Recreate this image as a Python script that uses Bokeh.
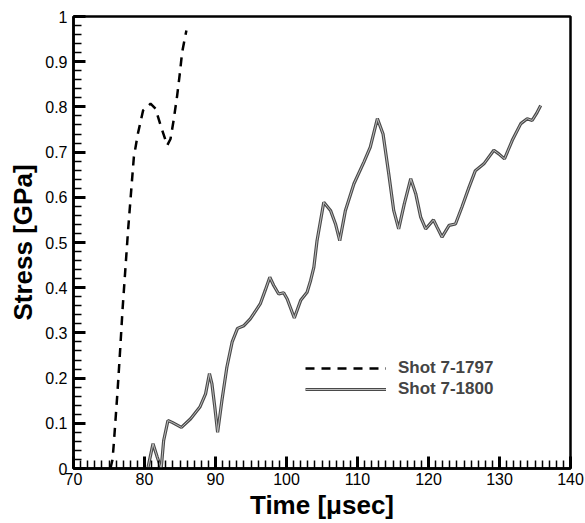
from bokeh.plotting import figure
from bokeh.models import FixedTicker, Legend, LegendItem, Range1d
from bokeh.embed import file_html
from bokeh.resources import INLINE

# Shot 7-1797 (dashed)
t_1797 = [75.2, 75.5, 75.7, 76.2, 76.6, 76.9, 77.3, 77.7, 78.5, 79.06, 79.8,
          80.85, 81.55, 82.35, 83.2, 83.66, 84.1, 84.6, 84.97, 85.3, 85.9]
s_1797 = [0.0, 0.02, 0.06, 0.17, 0.27, 0.35, 0.44, 0.53, 0.689, 0.74, 0.792,
          0.807, 0.796, 0.755, 0.715, 0.729, 0.77, 0.825, 0.873, 0.921, 0.969]

# Shot 7-1800 (solid)
t_1800 = [80.5, 81.2, 81.8, 82.35, 82.7, 83.3, 83.9, 85.2, 86.5, 87.8, 88.6, 89.15,
          89.5, 89.9, 90.3, 90.9, 91.6, 92.35, 93.1, 94.0, 94.9, 96.3, 97.0, 97.65,
          98.2, 98.9, 99.6, 100.1, 101.1, 102.0, 102.9, 103.4, 103.85, 104.3, 105.25,
          106.2, 106.9, 107.5, 108.3, 109.5, 110.9, 111.8, 112.8, 113.6, 114.4, 115.1,
          115.8, 116.6, 117.5, 118.2, 118.9, 119.6, 120.7, 121.2, 121.9, 122.9, 123.8,
          124.7, 125.7, 126.6, 127.8, 129.2, 129.9, 130.7, 131.8, 133.0, 133.9, 134.6,
          135.2, 135.8]
s_1800 = [0.003, 0.055, 0.025, 0.0, 0.062, 0.106, 0.102, 0.091, 0.11, 0.136, 0.165, 0.21,
          0.187, 0.136, 0.08, 0.15, 0.224, 0.28, 0.31, 0.316, 0.331, 0.364, 0.394, 0.423,
          0.405, 0.386, 0.389, 0.375, 0.333, 0.372, 0.39, 0.416, 0.445, 0.504, 0.589,
          0.571, 0.541, 0.504, 0.571, 0.63, 0.678, 0.711, 0.774, 0.74, 0.652, 0.571,
          0.53, 0.586, 0.641, 0.608, 0.556, 0.53, 0.55, 0.534, 0.512, 0.538, 0.541,
          0.578, 0.622, 0.659, 0.674, 0.704, 0.696, 0.685, 0.726, 0.763, 0.774, 0.77,
          0.785, 0.803]

x_ticks = [70, 80, 90, 100, 110, 120, 130, 140]
y_ticks = [0, 0.1, 0.2, 0.3, 0.4, 0.5, 0.6, 0.7, 0.8, 0.9, 1.0]
y_tick_labels = ["0", "0.1", "0.2", "0.3", "0.4", "0.5", "0.6", "0.7", "0.8", "0.9", "1"]
x_minor = [v for v in range(70, 141) if v % 10 != 0]
y_minor = [i / 50 for i in range(0, 51) if i % 5 != 0]

FONT = "Liberation Sans"

p = figure(width=585, height=523, output_backend="svg", toolbar_location=None,
           x_range=Range1d(70, 140), y_range=Range1d(0, 1),
           min_border_left=73, min_border_top=16, min_border_right=15, min_border_bottom=55)
p.grid.visible = False
p.outline_line_color = "black"
p.outline_line_width = 2.5

l1 = p.line(t_1797, s_1797, line_color="black", line_width=2.5, line_dash="9 7")
l2a = p.line(t_1800, s_1800, line_color="#4a4a4a", line_width=3.2)
l2b = p.line(t_1800, s_1800, line_color="#bdbdbd", line_width=1)

for ax in (p.xaxis[0], p.yaxis[0]):
    ax.axis_line_width = 2.5
    ax.major_tick_in = 12
    ax.major_tick_out = 0
    ax.minor_tick_in = 8
    ax.minor_tick_out = 0
    ax.major_tick_line_width = 3
    ax.minor_tick_line_width = 1.5
    ax.major_tick_line_color = "black"
    ax.minor_tick_line_color = "black"
    ax.major_label_text_font = FONT
    ax.major_label_text_font_size = "16px"
    ax.major_label_text_color = "black"
    ax.axis_label_text_font = FONT
    ax.axis_label_text_font_size = "26px"
    ax.axis_label_text_font_style = "bold"
    ax.axis_label_text_color = "black"

p.xaxis[0].ticker = FixedTicker(ticks=x_ticks, minor_ticks=x_minor)
p.yaxis[0].ticker = FixedTicker(ticks=y_ticks, minor_ticks=y_minor)
p.yaxis[0].major_label_overrides = {t: s for t, s in zip(y_ticks, y_tick_labels)}
p.xaxis[0].axis_label = "Time [\u03bcsec]"
p.yaxis[0].axis_label = "Stress [GPa]"
p.xaxis[0].major_label_standoff = 4
p.yaxis[0].major_label_standoff = 6
p.xaxis[0].axis_label_standoff = 2
p.yaxis[0].axis_label_standoff = 4

legend = Legend(items=[LegendItem(label="Shot 7-1797", renderers=[l1]),
                       LegendItem(label="Shot 7-1800", renderers=[l2a, l2b])],
                location=(232, 69), border_line_color=None, background_fill_alpha=0,
                padding=0, margin=0, spacing=1, glyph_width=81, glyph_height=20,
                label_standoff=12, label_text_font=FONT, label_text_font_size="17px",
                label_text_font_style="bold", label_height=20)
p.add_layout(legend)

open("out.html", "w").write(file_html(p, INLINE))
